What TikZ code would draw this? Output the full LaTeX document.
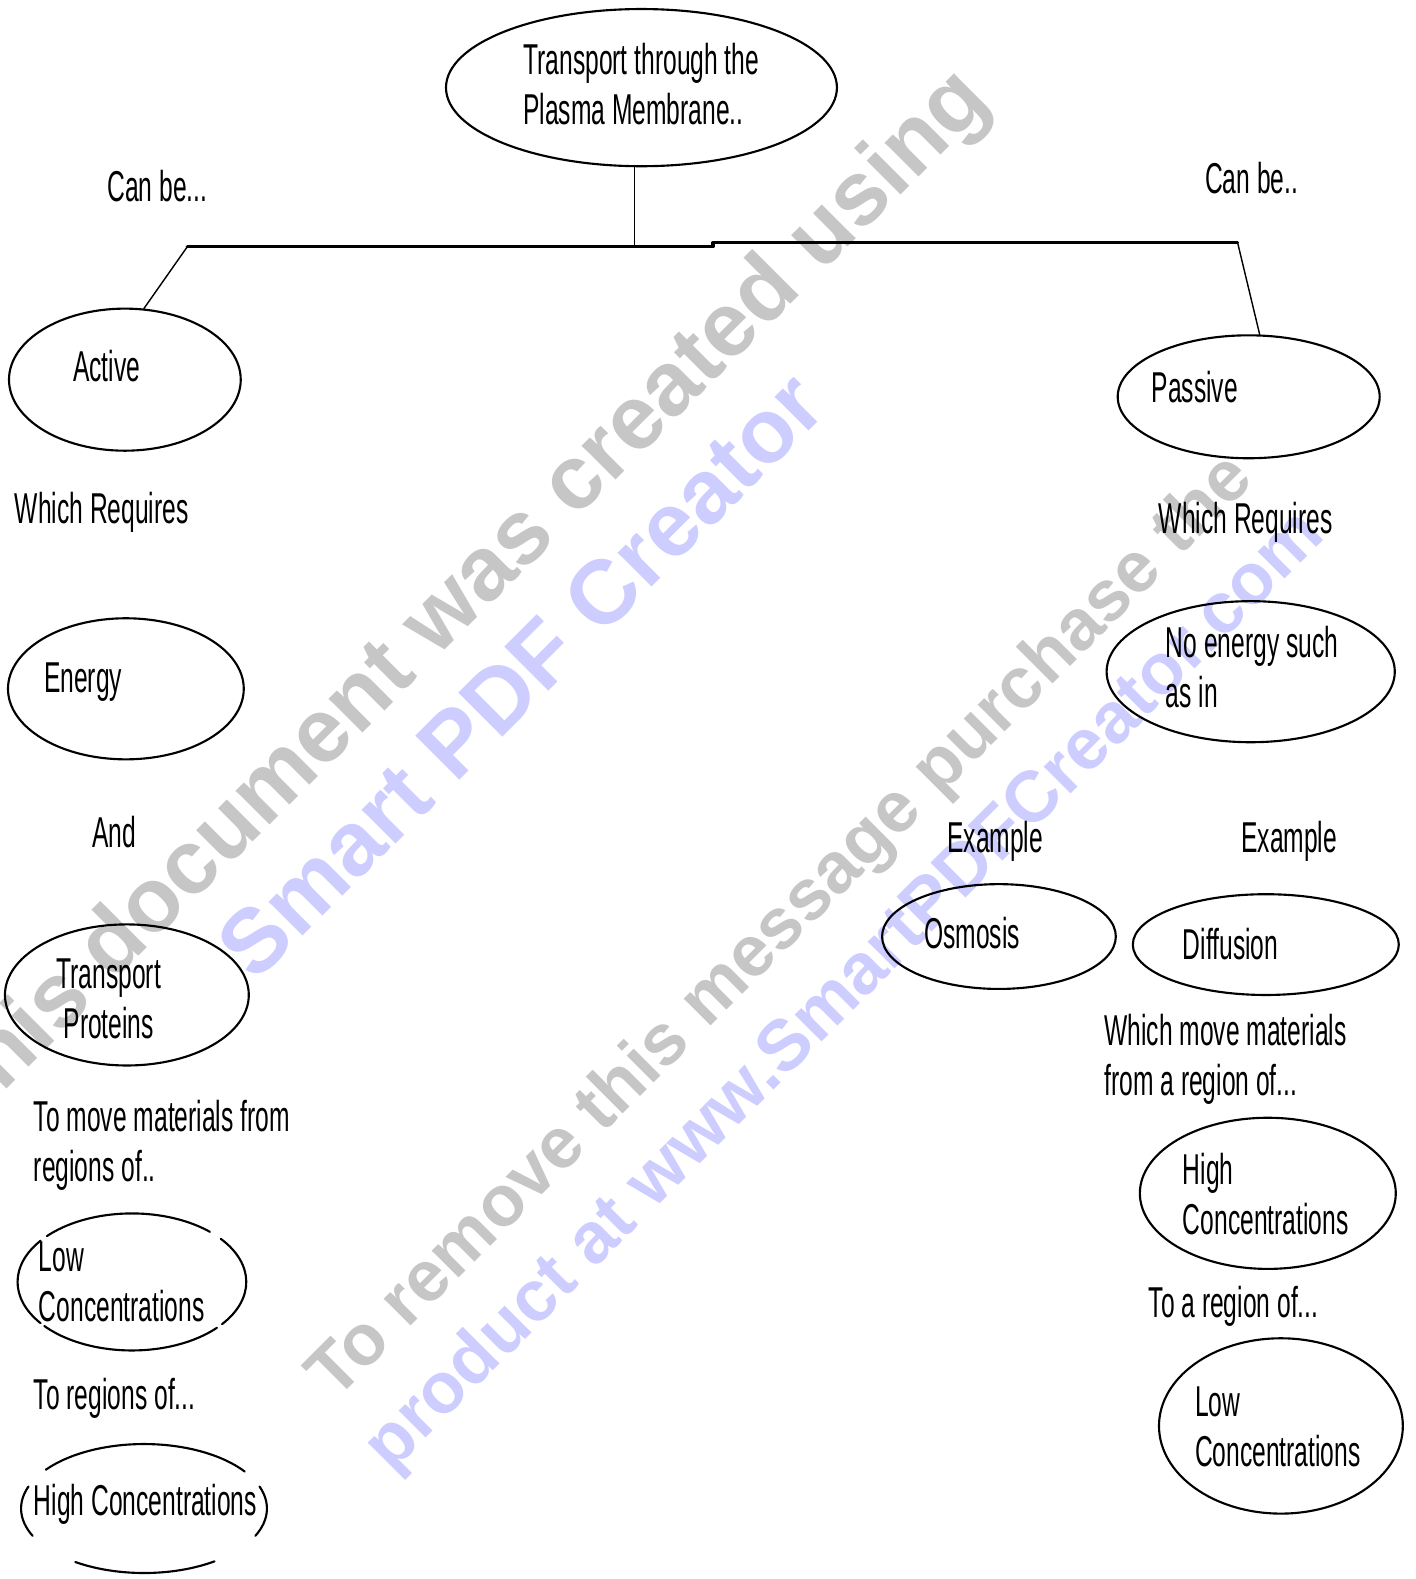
\documentclass[tikz,border=0pt]{standalone}
\usepackage{fontspec}
\setmainfont{Liberation Sans}[FakeStretch=0.57]
\newfontfamily\wmfont{Liberation Sans}
\usetikzlibrary{shapes.geometric}
\definecolor{wmgray}{RGB}{198,198,198}
\definecolor{wmblue}{RGB}{205,205,255}
\begin{document}
\begin{tikzpicture}[x=0.01cm,y=-0.01cm,line join=round,line cap=round,
		font=\fontsize{12.2}{14.2}\selectfont,
		bubble/.style={ellipse,draw,line width=0.6pt,inner sep=0pt},
		hole/.style={ellipse,inner sep=0pt},
		word/.style={anchor=base west,inner sep=0pt},
		lines/.style={anchor=north west,inner sep=0pt,align=left},
		wmbig/.style={rotate=45,inner sep=0pt,font=\wmfont\bfseries\fontsize{25.6}{30}\selectfont},
		wmsmall/.style={rotate=45,inner sep=0pt,font=\wmfont\bfseries\fontsize{20.3}{25}\selectfont}]
	\useasboundingbox (0,0) rectangle (1406,1568);
	\clip (0,0) rectangle (1406,1568);
	% watermark
	\node[wmbig,text=wmgray] (wmA) at (458,597) {This document was created using};
	\node[wmbig,text=wmblue] (wmB) at (517,670) {Smart PDF Creator};
	\node[wmsmall,text=wmgray] (wmC) at (777,922) {To remove this message purchase the};
	\node[wmsmall,text=wmblue] (wmD) at (840,985) {product at www.SmartPDFCreator.com};
	% ellipses
	\node[bubble,minimum width=3.88cm,minimum height=1.56cm] (top) at (637,87) {};
	\node[bubble,minimum width=2.30cm,minimum height=1.41cm] (active) at (124,377) {};
	\node[bubble,minimum width=2.34cm,minimum height=1.40cm] (energy) at (125,684) {};
	\node[bubble,minimum width=2.42cm,minimum height=1.40cm] (proteins) at (126,988) {};
	\node[hole,minimum width=2.27cm,minimum height=1.36cm] (lowL) at (131,1273) {};
	\node[hole,minimum width=2.44cm,minimum height=1.28cm] (highL) at (143,1498) {};
	\node[bubble,minimum width=2.60cm,minimum height=1.22cm] (passive) at (1240,394) {};
	\node[bubble,minimum width=2.86cm,minimum height=1.40cm] (noenergy) at (1242,667) {};
	\node[bubble,minimum width=2.32cm,minimum height=1.04cm] (osmosis) at (992,930) {};
	\node[bubble,minimum width=2.64cm,minimum height=1.00cm] (diffusion) at (1257,938) {};
	\node[bubble,minimum width=2.54cm,minimum height=1.50cm] (highR) at (1259,1185) {};
	\node[bubble,minimum width=2.42cm,minimum height=1.74cm] (lowR) at (1272,1416) {};
	% broken outlines
	\foreach \a/\b in {47/138,143/217,220/318,322/399}
	\draw[line width=0.6pt] ([shift={(\a:1.135cm and 0.68cm)}]lowL.center) arc[start angle=\a,end angle=\b,x radius=1.135cm,y radius=0.68cm];
	\foreach \a/\b in {35/143,160/205,236/305,335/380}
	\draw[line width=0.6pt] ([shift={(\a:1.22cm and 0.64cm)}]highL.center) arc[start angle=\a,end angle=\b,x radius=1.22cm,y radius=0.64cm];
	% texts
	\node[lines] (topT) at (519,42) {Transport through the\\Plasma Membrane..};
	\node[word] (canL) at (106,200) {Can be...};
	\node[word] (canR) at (1196,192) {Can be..};
	\node[word] (activeT) at (72,379) {Active};
	\node[word] (reqL) at (14,520) {Which Requires};
	\node[word] (energyT) at (43,688) {Energy};
	\node[word] (andT) at (91,842) {And};
	\node[lines,align=center,anchor=north] (proteinsT) at (108,951) {Transport\\Proteins};
	\node[lines] (moveL) at (33,1092) {To move materials from\\regions of..};
	\node[lines] (lowLT) at (38,1232) {Low\\Concentrations};
	\node[word] (toL) at (33,1400) {To regions of...};
	\node[word] (highLT) at (33,1505) {High Concentrations};
	\node[word] (passiveT) at (1143,400) {Passive};
	\node[word] (reqR) at (1150,530) {Which Requires};
	\node[lines] (noT) at (1157,621) {No energy such\\as in};
	\node[word] (exL) at (940,847) {Example};
	\node[word] (exR) at (1232,847) {Example};
	\node[word] (osmT) at (917,942) {Osmosis};
	\node[word] (difT) at (1174,953) {Diffusion};
	\node[lines] (moveR) at (1096,1006) {Which move materials\\from a region of...};
	\node[lines] (highRT) at (1174,1144) {High\\Concentrations};
	\node[word] (toR) at (1140,1308) {To a region of...};
	\node[lines] (lowRT) at (1186,1376) {Low\\Concentrations};
	% connectors
	\coordinate (hub) at (630,245);
	\coordinate (barL) at (186,245);
	\coordinate (step) at (708,241);
	\coordinate (barR) at (1229,241);
	\draw[line width=0.4pt] (top.south -| hub) -- (hub);
	\draw[line width=0.9pt] (barL) -- (barL -| step) -- (step) -- (barR);
	\draw[line width=0.4pt] (barL) -- (active.75);
	\draw[line width=0.4pt] (barR) -- (passive.80);
\end{tikzpicture}
\end{document}
